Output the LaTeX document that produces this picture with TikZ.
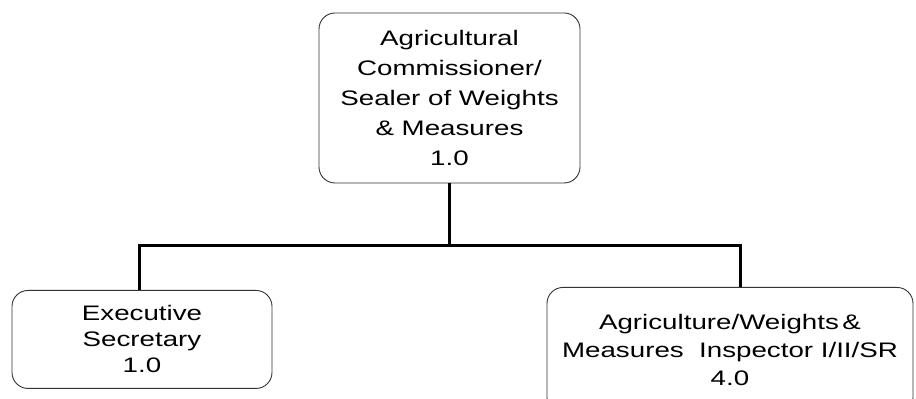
\documentclass[tikz,border=0pt]{standalone}
\usepackage{fontspec}
\setmainfont[FakeStretch=1.32]{Liberation Sans}
\usetikzlibrary{positioning}

\begin{document}
\begin{tikzpicture}[x=1pt, y=1pt,
  every node/.style={align=center},
  post/.style={draw=black!80, line width=0.9pt, rounded corners=16pt, inner sep=2pt},
  link/.style={line width=3pt}]
\useasboundingbox (0,0) rectangle (916,399);
\clip (0,0) rectangle (916,399);
\node (boss) [post, minimum width=261pt, minimum height=170pt, font=\fontsize{21}{30}\selectfont] at (449.5,301)
  {Agricultural\\Commissioner/\\Sealer of Weights\\\& Measures\\1.0};
\node (sec)  [post, anchor=north, minimum width=260pt, minimum height=98pt, font=\fontsize{21}{26}\selectfont] at (142,109)
  {Executive\\Secretary\\1.0};
\node (insp) [post, anchor=north, minimum width=366pt, minimum height=126pt, font=\fontsize{21}{28}\selectfont] at (730,112)
  {Agriculture/Weights\,\&\\Measures\ \ Inspector\ I/II/SR\\4.0};
\coordinate (split) at ([yshift=-62pt]boss.south);
\draw[link] (boss.south) -- (split);
\draw[link] ([xshift=-3pt]sec.north) |- (split) -| ([xshift=10pt]insp.north);
\end{tikzpicture}
\end{document}
